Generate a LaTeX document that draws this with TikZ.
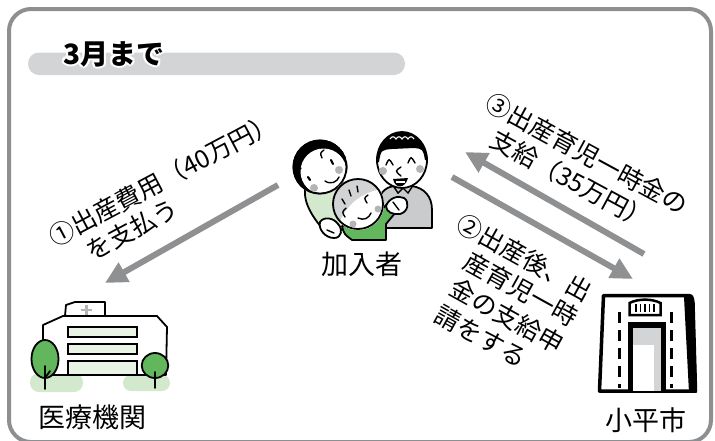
\documentclass[tikz,border=0pt]{standalone}
\usepackage{fontspec}
\setmainfont{Noto Sans CJK JP}
\usetikzlibrary{arrows.meta}
\definecolor{framegray}{HTML}{8E8F91}
\definecolor{bandgray}{HTML}{D3D4D6}
\definecolor{arrowgray}{HTML}{8F9092}
\definecolor{leafgreen}{HTML}{62B75C}
\definecolor{palegreen}{HTML}{D3E9CE}
\definecolor{windowgreen}{HTML}{E9F4E5}
\definecolor{shirtgray}{HTML}{CACBCC}
\definecolor{cheekgray}{HTML}{B4B5B7}
\definecolor{hairgray}{HTML}{D2D3D4}
\definecolor{doorgray}{HTML}{D3D4D5}
% one white copy of a text, shifted, taking no width
\newcommand\halocopy[3]{\makebox[0pt][l]{\hspace*{#1}\raisebox{#2}{\textcolor{white}{#3}}}}
% text with a white outline
\newcommand\outlined[1]{%
  \halocopy{2.2pt}{0pt}{#1}\halocopy{-2.2pt}{0pt}{#1}%
  \halocopy{0pt}{2.2pt}{#1}\halocopy{0pt}{-2.2pt}{#1}%
  \halocopy{1.6pt}{1.6pt}{#1}\halocopy{-1.6pt}{1.6pt}{#1}%
  \halocopy{1.6pt}{-1.6pt}{#1}\halocopy{-1.6pt}{-1.6pt}{#1}%
  #1}
\begin{document}
\begin{tikzpicture}[x=1pt,y=-1pt,
  flow/.style={draw=arrowgray, line width=6pt, -{Triangle[length=22pt,width=21pt]}},
  place/.style={font=\fontsize{27}{30}\selectfont, inner sep=0pt},
  note/.style={font=\fontsize{25}{28}\selectfont, inner sep=0pt, anchor=west},
  heading/.style={font=\fontsize{28}{31}\selectfont\bfseries, inner sep=0pt},
  ink/.style={draw=black, line width=1.8pt, line join=round, line cap=round},
  fine/.style={draw=black, line width=1.4pt, line cap=round},
  cheek/.style={fill=cheekgray}]
\useasboundingbox (0,0) rectangle (715,440);

% outer frame and heading band
\draw[framegray, line width=4pt, rounded corners=22pt] (9,9) rectangle (711,442);
\fill[bandgray, rounded corners=11pt] (28,52.5) rectangle (405,75);
\node[heading] (title) at (114,54) {\outlined{3月まで}};

% ---------- family ----------
% woman body
\path[fill=palegreen, ink] (306,186) .. controls (302,197) and (309,213) .. (322,228)
  -- (346,230) -- (350,195) .. controls (346,188) .. (338,185) -- cycle;
% man body
\path[fill=shirtgray, ink] (380,228) -- (379,201) .. controls (380,191) and (388,186) .. (396,186)
  -- (412,186) .. controls (424,188) and (432,196) .. (432,210) -- (432,228) -- cycle;
\draw[fine] (394,187) -- (398,193) -- (403,188) -- (408,193) -- (412,187);
% woman head with hair
\fill[white] (320,167) ellipse[x radius=27.5, y radius=27.5];
\begin{scope}
  \clip (320,167) ellipse[x radius=27.5, y radius=27.5];
  \fill[black] (320,167) ellipse[x radius=27.5, y radius=27.5];
  \fill[white] (323.5,171.5) ellipse[x radius=23, y radius=23];
\end{scope}
\draw[ink] (320,167) ellipse[x radius=26.5, y radius=26.5];
\draw[fine] (324,150) .. controls (320,153) .. (322,158);
\draw[fine] (301,168) .. controls (297,172) .. (299,177);
\draw[black, line width=2.2pt, line cap=round] (331,160) -- (333,164);
\draw[black, line width=2.2pt, line cap=round] (308,177) -- (310,180);
\fill[cheek] (339,170) circle[radius=4];
\fill[cheek] (314,188) circle[radius=4];
\draw[fine] (325,181) .. controls (331,185) and (337,182) .. (339,177);
% man head with hair
\fill[white] (402,160) ellipse[x radius=25, y radius=28];
\begin{scope}
  \clip (402,160) ellipse[x radius=25, y radius=28];
  \fill[black] (370,162) -- (379,162) .. controls (381,150) .. (392,149) -- (414,148)
    .. controls (423,149) .. (425,160) -- (435,160) -- (435,125) -- (370,125) -- cycle;
\end{scope}
\draw[ink] (402,160) ellipse[x radius=25, y radius=28];
\draw[white, line width=1.1pt] (390,139) .. controls (392,136) and (394,136) .. (396,139)
  .. controls (398,136) and (400,136) .. (402,139) .. controls (404,136) and (406,136) .. (408,139)
  .. controls (410,136) and (412,136) .. (414,139);
\draw[fine] (386,165) .. controls (389,158) .. (393,165);
\draw[fine] (408,163) .. controls (411,156) .. (415,163);
\draw[fine] (401,167) .. controls (395,171) .. (401,176);
\path[fill=black] (393,179) .. controls (395,189) and (405,189) .. (408,178) -- cycle;
\fill[white] (396,181) rectangle (405,183);
\fill[cheek] (383,171) circle[radius=4];
\fill[cheek] (420,169) circle[radius=4];
% child body
\path[fill=leafgreen, ink] (342,226) .. controls (344,234) .. (352,240) -- (386,240) -- (386,224)
  -- (396,212) -- (388,203) -- (375,217) -- cycle;
% child head
\fill[white] (358,204) ellipse[x radius=26, y radius=26];
\begin{scope}
  \clip (358,204) ellipse[x radius=26, y radius=26];
  \fill[hairgray] (358,204) ellipse[x radius=26, y radius=26];
  \fill[white] (338,226) .. controls (346,205) and (361,192) .. (383,189) -- (392,232) -- (336,236) -- cycle;
\end{scope}
\draw[ink] (358,204) ellipse[x radius=25, y radius=25];
\draw[fine] (349,190) -- (351,196);
\draw[fine] (357,186) -- (358,192);
\draw[fine] (342,199) -- (345,204);
\draw[fine] (346,208) .. controls (342,212) .. (345,217);
\draw[fine] (368,195) .. controls (364,198) .. (367,203);
\fill[cheek] (353,224) circle[radius=3.5];
\fill[cheek] (378,209) circle[radius=3.5];
\draw[fine] (358,218) .. controls (364,221) and (369,218) .. (371,213);
% hands
\path[fill=white, ink] (320,222) .. controls (324,216) and (334,218) .. (338,224)
  .. controls (343,229) and (342,238) .. (334,238) .. controls (326,238) and (318,230) .. cycle;
\draw[fine] (327,230) -- (334,233);
\path[fill=white, ink] (386,206) .. controls (389,198) and (398,195) .. (404,198)
  .. controls (410,202) and (408,212) .. (400,214) .. controls (393,215) and (386,212) .. cycle;
\draw[fine] (393,202) -- (399,210);

% ---------- hospital ----------
\fill[palegreen, rounded corners=9pt] (30,373) rectangle (83,392);
\fill[palegreen, rounded corners=8pt] (123,375) rectangle (170,391);
\path[fill=white, ink] (65,316) -- (66,305) -- (75,302) -- (105,302) -- (105,316);
\draw[cheekgray, line width=2.5pt] (81,310) -- (92,310) (86.5,305) -- (86.5,315);
\path[fill=white, ink] (43,375) -- (43,325) -- (63,316) -- (157,316) -- (167,327) -- (166,375) -- cycle;
\foreach \t/\b in {327/337, 344/354, 361/375}
  \draw[fill=windowgreen, draw=black, line width=1.5pt] (68,\t) rectangle (137,\b);
\path[fill=leafgreen, ink] (45,359) ellipse[x radius=13.5, y radius=19];
\draw[ink] (45,366) -- (45,389) (45,378) -- (50,371);
\path[fill=leafgreen, ink] (155,365.5) ellipse[x radius=13.3, y radius=12.5];
\draw[ink] (155,372) -- (155,388);
\node[place] (clinic) at (92,417) {医療機関};

% ---------- city hall ----------
\path[fill=white, draw=black, line width=3.5pt, line join=round]
  (603.5,295.5) -- (686,295.5) .. controls (692,295.5) .. (693,303) -- (695.5,391) -- (599.5,391) -- cycle;
\fill[black] (684,297) -- (690,296) -- (694,303) -- (697,392.5) -- (689,392.5) -- cycle;
\path[fill=white, draw=black, line width=2.5pt] (629.5,315) -- (629.5,303) .. controls (638,298.5) and (652,298.5) .. (660.5,303) -- (660.5,315) -- cycle;
\foreach \x in {636,640.5,645,649.5,654}
  \draw[black, line width=1.8pt] (\x,304) -- (\x,312);
\fill[black] (628,321.5) rectangle (665.5,391);
\fill[doorgray] (633,328) rectangle (660.5,391);
\fill[white] (633,345) rectangle (653.5,391);
\draw[black, line width=3pt, dash pattern=on 11pt off 7pt] (619.5,312) -- (619.5,388);
\draw[black, line width=3pt, dash pattern=on 11pt off 7pt] (671.5,312) -- (671.5,388);
\node[place] (city) at (646,420) {小平市};

% ---------- member ----------
\node[place] (member) at (362,264) {加入者};

% ---------- flows ----------
\coordinate (payfrom) at (278,185);
\coordinate (payto) at (105,283);
\coordinate (askfrom) at (452,177);
\coordinate (askto) at (633,279);
\coordinate (grantfrom) at (644,254);
\coordinate (grantto) at (465,152);
\draw[flow] (payfrom) -- (payto);
\draw[flow] (askfrom) -- (askto);
\draw[flow] (grantfrom) -- (grantto);

\node[note, rotate=28] (pay1) at (51,239) {①出産費用（40万円）};
\node[note, rotate=28] (pay2) at (88,253) {を支払う};

\node[note, rotate=-28.5] (grant1) at (488,100) {③出産育児一時金の};
\node[note, rotate=-28.5] (grant2) at (493,137) {支給（35万円）};

\node[note, rotate=-29] (ask1) at (459,221) {②出産後、出};
\node[note, rotate=-29] (ask2) at (466,259) {産育児一時};
\node[note, rotate=-29] (ask3) at (452,285.5) {金の支給申};
\node[note, rotate=-29] (ask4) at (437,312) {請をする};
\end{tikzpicture}
\end{document}
